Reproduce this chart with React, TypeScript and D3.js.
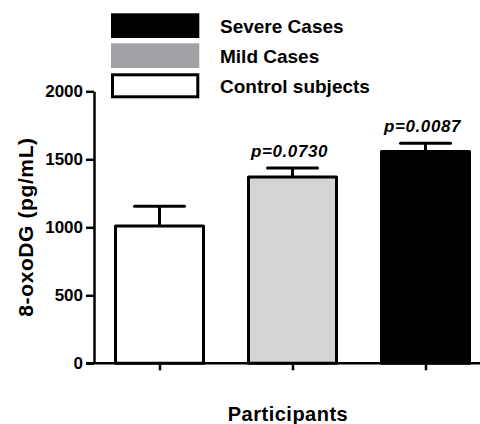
import React, { useEffect, useRef } from "react";
import * as d3 from "d3";

const categories = ["Control subjects", "Mild Cases", "Severe Cases"];
const means = [1010, 1370, 1557];
const errors = [145, 66, 61];
const pLabels = ["", "p=0.0730", "p=0.0087"];
const barFills = ["#ffffff", "#d4d4d4", "#000000"];
const legendLabels = ["Severe Cases", "Mild Cases", "Control subjects"];
const legendFills = ["#000000", "#a2a2a6", "#ffffff"];
const yTicks = [0, 500, 1000, 1500, 2000];

const W = 480;
const H = 424;
const FONT = "'Liberation Sans', Arial, sans-serif";

export default function App() {
  const ref = useRef<SVGSVGElement | null>(null);

  useEffect(() => {
    document.body.style.margin = "0";
    const svg = d3.select(ref.current);
    svg.selectAll("*").remove();

    const y = d3.scaleLinear().domain([0, 2000]).range([363.3, 91.3]);
    const x = d3.scalePoint<string>().domain(categories).range([93, 492]).padding(0.5);
    const barW = 88;

    // bars
    const g = svg.append("g");
    categories.forEach((c, i) => {
      const cx = x(c) as number;
      const top = y(means[i]);
      const errTop = y(means[i] + errors[i]);
      g.append("line")
        .attr("x1", cx).attr("x2", cx)
        .attr("y1", top).attr("y2", errTop)
        .attr("stroke", "#000").attr("stroke-width", 3);
      g.append("line")
        .attr("x1", cx - 25).attr("x2", cx + 25)
        .attr("y1", errTop).attr("y2", errTop)
        .attr("stroke", "#000").attr("stroke-width", 3)
        .attr("stroke-linecap", "round");
      g.append("rect")
        .attr("x", cx - barW / 2)
        .attr("y", top)
        .attr("width", barW)
        .attr("height", y(0) - top)
        .attr("fill", barFills[i])
        .attr("stroke", "#000")
        .attr("stroke-width", 3)
        .attr("stroke-linejoin", "round");
      if (pLabels[i]) {
        g.append("text")
          .attr("x", cx - 3)
          .attr("y", errTop - 11)
          .attr("text-anchor", "middle")
          .attr("font-family", FONT)
          .attr("font-weight", "bold")
          .attr("font-style", "italic")
          .attr("font-size", 17)
          .attr("letter-spacing", 0.6)
          .attr("fill", "#000")
          .text(pLabels[i]);
      }
    });

    // y axis
    const yAxis = d3
      .axisLeft(y)
      .tickValues(yTicks)
      .tickFormat(d3.format("d"))
      .tickSize(8)
      .tickSizeOuter(0)
      .tickPadding(3);
    const ya = svg.append("g").attr("transform", "translate(94,0)").call(yAxis);
    ya.select(".domain").attr("stroke", "#000").attr("stroke-width", 2.5);
    ya.selectAll(".tick line").attr("stroke", "#000").attr("stroke-width", 2.5);
    ya.selectAll(".tick text")
      .attr("font-family", FONT)
      .attr("font-weight", "bold")
      .attr("font-size", 17)
      .attr("fill", "#000");

    // x axis
    const xAxis = d3.axisBottom(x).tickSize(7).tickSizeOuter(0).tickFormat(() => "");
    const xa = svg.append("g").attr("transform", `translate(0,${y(0)})`).call(xAxis);
    xa.select(".domain").remove();
    xa.selectAll(".tick line").attr("stroke", "#000").attr("stroke-width", 2.5);
    svg.append("line")
      .attr("x1", 86).attr("x2", W)
      .attr("y1", y(0)).attr("y2", y(0))
      .attr("stroke", "#000").attr("stroke-width", 2.5);

    // axis titles
    svg.append("text")
      .attr("x", 288)
      .attr("y", 421)
      .attr("text-anchor", "middle")
      .attr("font-family", FONT)
      .attr("font-weight", "bold")
      .attr("font-size", 20)
      .attr("letter-spacing", 0.5)
      .attr("fill", "#000")
      .text("Participants");
    svg.append("text")
      .attr("transform", "translate(33,227) rotate(-90)")
      .attr("text-anchor", "middle")
      .attr("font-family", FONT)
      .attr("font-weight", "bold")
      .attr("font-size", 21)
      .attr("letter-spacing", 0.6)
      .attr("fill", "#000")
      .text("8-oxoDG (pg/mL)");

    // legend
    const lg = svg.append("g");
    legendLabels.forEach((lab, i) => {
      const ly = 13.3 + i * 30;
      if (legendFills[i] === "#ffffff") {
        lg.append("rect")
          .attr("x", 112.5).attr("y", ly + 1.5)
          .attr("width", 85.3).attr("height", 22)
          .attr("fill", "#fff").attr("stroke", "#000").attr("stroke-width", 3);
      } else {
        lg.append("rect")
          .attr("x", 111).attr("y", ly)
          .attr("width", 88.3).attr("height", 24.7)
          .attr("fill", legendFills[i]);
      }
      lg.append("text")
        .attr("x", 220)
        .attr("y", ly + 19.4)
        .attr("font-family", FONT)
        .attr("font-weight", "bold")
        .attr("font-size", 19)
        .attr("fill", "#000")
        .text(lab);
    });
  }, []);

  return (
    <svg ref={ref} width={W} height={H} style={{ display: "block", background: "#fff" }} />
  );
}
